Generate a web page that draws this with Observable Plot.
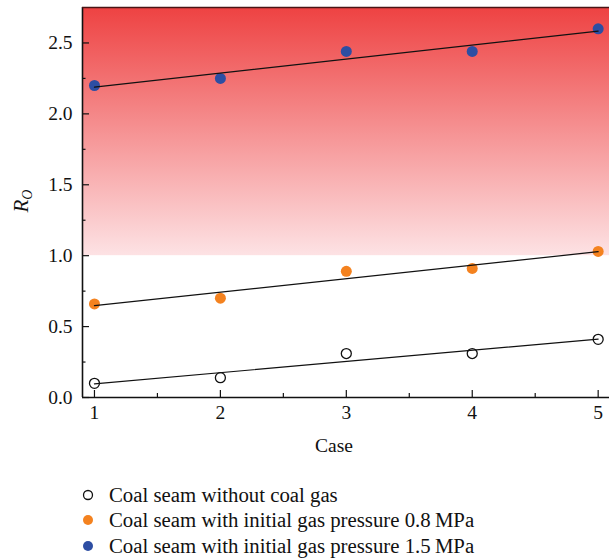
<!DOCTYPE html>
<html>
<head>
<meta charset="utf-8">
<script src="https://cdn.jsdelivr.net/npm/d3@7"></script>
<script src="https://cdn.jsdelivr.net/npm/@observablehq/plot@0.6"></script>
<style>
  body { margin: 0; background: #fff; font-family: "Liberation Serif", "DejaVu Serif", serif; }
  #legend { margin-top: 17px; font-size: 20.8px; color: #111; }
  .row { display: flex; align-items: center; height: 25.5px; padding-left: 81px; }
  .row svg { margin-right: 14px; }
</style>
</head>
<body>
<div id="chart"></div>
<div id="legend"></div>
<script>
const cases = [1, 2, 3, 4, 5];
const noGas = [0.10, 0.14, 0.31, 0.31, 0.41];
const gas08 = [0.66, 0.70, 0.89, 0.91, 1.03];
const gas15 = [2.20, 2.25, 2.44, 2.44, 2.60];
const seriesNames = [
  "Coal seam without coal gas",
  "Coal seam with initial gas pressure 0.8\u2009MPa",
  "Coal seam with initial gas pressure 1.5\u2009MPa"
];
const seriesColors = ["none", "#f4821f", "#2d4ea3"];
const yMajor = [0, 0.5, 1.0, 1.5, 2.0, 2.5];
const yMinor = [0.25, 0.75, 1.25, 1.75, 2.25];
const xMajor = [1, 2, 3, 4, 5];
const xMinor = [1.5, 2.5, 3.5, 4.5];
const dangerFrom = 1.0;

const xDom = [0.905, 5.09];
const yDom = [0, 2.75];

const rows = (vals) => cases.map((c, i) => ({case: c, v: vals[i]}));
const d0 = rows(noGas), d1 = rows(gas08), d2 = rows(gas15);

const FONT = "Liberation Serif, DejaVu Serif, serif";

const plot = Plot.plot({
  width: 609,
  height: 465,
  marginLeft: 82,
  marginRight: 0,
  marginTop: 7,
  marginBottom: 68,
  style: {fontFamily: FONT, fontSize: "19px", color: "#111", background: "#fff"},
  x: {domain: xDom, label: null},
  y: {domain: yDom, label: null},
  marks: [
    Plot.rect([{}], {x1: xDom[0], x2: xDom[1], y1: dangerFrom, y2: yDom[1], fill: "url(#dangerGrad)"}),
    Plot.axisY(yMajor, {tickSize: -7, tickPadding: 17, tickFormat: d3.format(".1f"), stroke: "#111", strokeWidth: 1.2, fontSize: 19.5, fill: "#111"}),
    Plot.axisY(yMinor, {tickSize: -3.5, text: null, stroke: "#111", strokeWidth: 1.2}),
    Plot.axisX(xMajor, {tickSize: -7, tickPadding: 15, tickFormat: d3.format("d"), stroke: "#111", strokeWidth: 1.2, fontSize: 19.5, fill: "#111"}),
    Plot.axisX(xMinor, {tickSize: -4, text: null, stroke: "#111", strokeWidth: 1.2}),
    Plot.ruleX([xDom[0]], {stroke: "#111", strokeWidth: 1.6}),
    Plot.ruleY([0], {stroke: "#111", strokeWidth: 1.6}),
    Plot.ruleY([yDom[1]], {stroke: "#4a1414", strokeWidth: 1.6}),
    Plot.dot(d0, {x: "case", y: "v", r: 5, stroke: "#111", fill: "#fff", strokeWidth: 1.3}),
    Plot.dot(d1, {x: "case", y: "v", r: 5.5, fill: seriesColors[1], stroke: "none"}),
    Plot.dot(d2, {x: "case", y: "v", r: 5.5, fill: seriesColors[2], stroke: "none"}),
    Plot.linearRegressionY(d0, {x: "case", y: "v", ci: 0, stroke: "#111", strokeWidth: 1.2}),
    Plot.linearRegressionY(d1, {x: "case", y: "v", ci: 0, stroke: "#111", strokeWidth: 1.2}),
    Plot.linearRegressionY(d2, {x: "case", y: "v", ci: 0, stroke: "#111", strokeWidth: 1.2})
  ]
});

const svg = d3.select(plot);
const defs = svg.insert("defs", ":first-child");
const g = defs.append("linearGradient").attr("id", "dangerGrad")
  .attr("x1", 0).attr("y1", 1).attr("x2", 0).attr("y2", 0);
g.append("stop").attr("offset", "0%").attr("stop-color", "#fde2e4");
g.append("stop").attr("offset", "100%").attr("stop-color", "#ee4242");

// axis titles
svg.append("text").attr("x", 334).attr("y", 452).attr("text-anchor", "middle")
  .attr("font-size", 19.5).attr("fill", "#111").text("Case");
const yl = svg.append("text").attr("transform", "translate(28,201) rotate(-90)")
  .attr("text-anchor", "middle").attr("font-size", 21).attr("fill", "#111");
yl.append("tspan").attr("font-style", "italic").text("R");
yl.append("tspan").attr("font-style", "italic").attr("font-size", 14).attr("dy", 4).text("O");

document.getElementById("chart").appendChild(plot);

const legend = d3.select("#legend");
seriesNames.forEach((name, i) => {
  const row = legend.append("div").attr("class", "row");
  const s = row.append("svg").attr("width", 14).attr("height", 14);
  s.append("circle").attr("cx", 7).attr("cy", 7).attr("r", i === 0 ? 4.5 : 5)
    .attr("fill", i === 0 ? "#fff" : seriesColors[i])
    .attr("stroke", i === 0 ? "#111" : "none").attr("stroke-width", 1.3);
  row.append("span").text(name);
});
</script>
</body>
</html>
